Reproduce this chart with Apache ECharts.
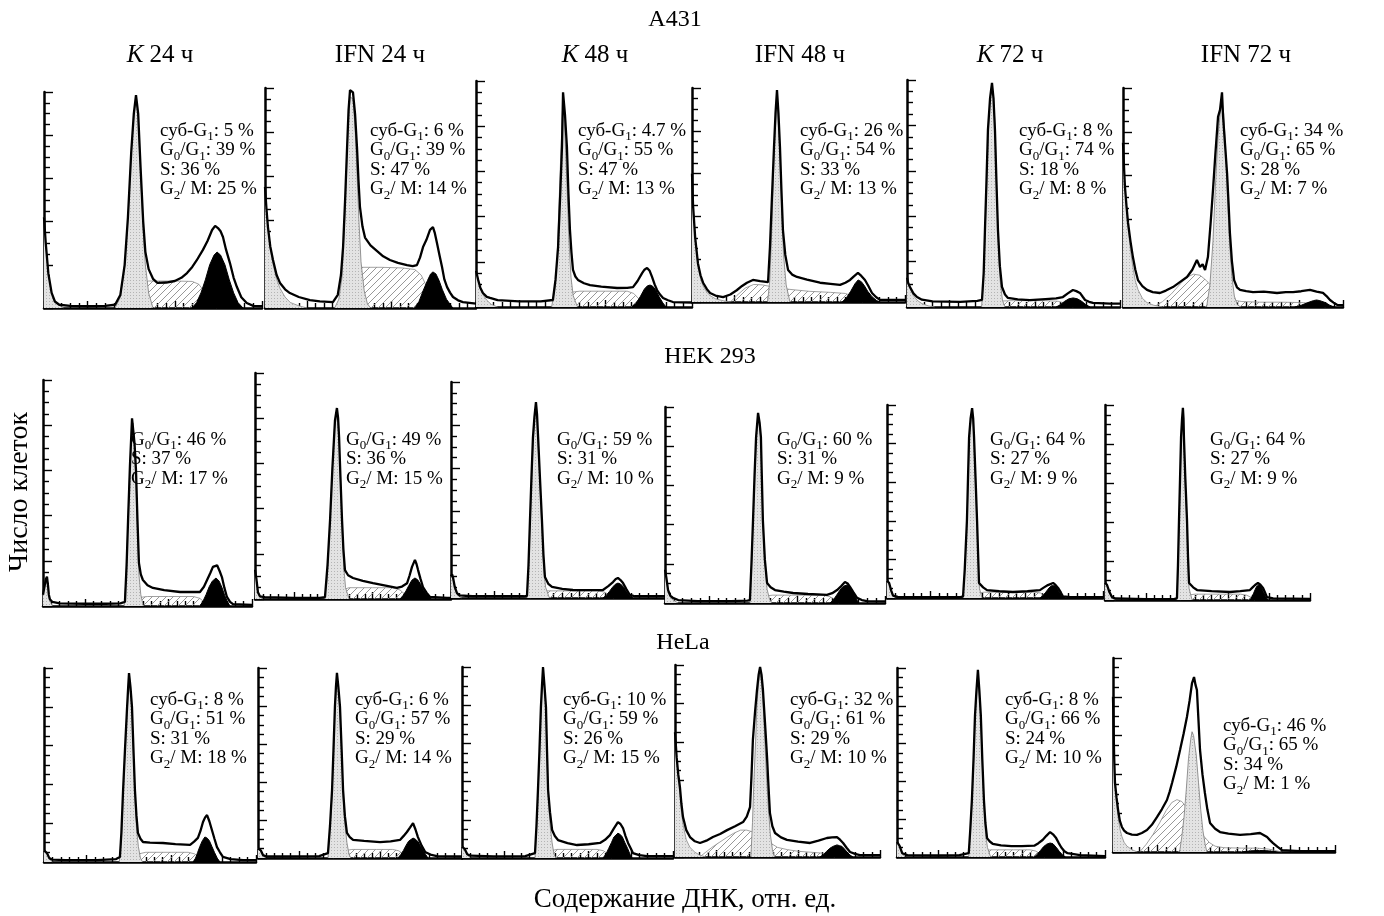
<!DOCTYPE html>
<html>
<head>
<meta charset="utf-8">
<title>Клеточный цикл: A431, HEK 293, HeLa</title>
<script src="https://cdn.jsdelivr.net/npm/echarts@6/dist/echarts.min.js"></script>
<style>
  html, body { margin: 0; padding: 0; background: #fff; }
  #chart { width: 1384px; height: 916px; }
</style>
</head>
<body>
<div id="chart"></div>
<script>
// подписи колонок и строк
const colTitles = ['{i|K} 24 ч', 'IFN 24 ч', '{i|K} 48 ч', 'IFN 48 ч', '{i|K} 72 ч', 'IFN 72 ч']
const rowTitles = ['A431', 'HEK 293', 'HeLa']

// доли фаз, %
const a431SubG1 = [5, 6, 4.7, 26, 8, 34]
const a431G0G1 = [39, 39, 55, 54, 74, 65]
const a431S = [36, 47, 47, 33, 18, 28]
const a431G2M = [25, 14, 13, 13, 8, 7]
const hekG0G1 = [46, 49, 59, 60, 64, 64]
const hekS = [37, 36, 31, 31, 27, 27]
const hekG2M = [17, 15, 10, 9, 9, 9]
const helaSubG1 = [8, 6, 10, 32, 8, 46]
const helaG0G1 = [51, 57, 59, 61, 66, 65]
const helaS = [31, 29, 26, 29, 24, 34]
const helaG2M = [18, 14, 15, 10, 10, 1]

// гистограммы: [канал, число клеток в % от максимума шкалы]
// A431 K 24
const a431K24Env = [[0,42],[0.8,30],[2,16],[3.5,7],[5,3],[7,1.5],[12,1],[20,0.8],[28,1],[32.6,1.5],[35,6],[37,20],[38.5,42],[40,72],[41.2,90],[42.2,98.6],[43.2,90],[44.3,65],[45.5,40],[46.5,26],[48,18],[50,13.5],[52,11.6],[56,11.8],[60,12.5],[63,14],[65.6,16.2],[68,19],[70,22],[72.9,26.9],[75,31],[77.1,36.1],[78.5,38],[79.8,37],[81,35.5],[82.1,32.9],[83.5,27],[85.3,20.8],[87,14],[88.5,9.7],[90.5,5],[93,2.3],[96,1],[100,0.8]]
const a431K24Sub = [[0,42],[0.8,30],[2,16],[3.5,7],[5,3],[7,1.2],[9,0]]
const a431K24S = [[38,0],[42,6],[45,11],[48,12.5],[60,12.5],[68,12.3],[71,11],[74,7],[77,2],[79,0]]
const a431K24G1 = [[32.6,0],[35,5],[37,19],[38.5,41],[40,71],[41.2,89],[42.2,97],[43.2,88],[44.3,62],[45.5,36],[46.5,20],[48,7],[50,0]]
const a431K24G2 = [[67.9,0],[70,2.5],[72,7],[74,13],[76,20],[78,24.5],[79.4,25.9],[81,24.5],[83,20],[85,13],[87,7],[89,2.5],[91.3,0]]
// A431 IFN 24
const a431Ifn24Env = [[0,55],[0.7,45],[1.4,36.8],[2.5,28],[3.8,21.8],[5.5,15],[7.1,11.4],[9.5,8.5],[11.8,6.8],[16,5],[21.3,3.6],[26,3],[32.2,2.7],[34.5,6],[36,15],[37,27.7],[38,50],[38.9,73],[39.6,90],[40.3,99],[41.7,98],[42.7,88],[43.6,73],[44.3,58],[45,46],[46.2,37],[47.4,32],[50,28.5],[53,26],[56,23.5],[59.2,21.8],[63,20.5],[67.3,19.5],[70,19],[72,19.5],[73.5,23],[74.9,27.7],[76.5,31],[78.2,35.5],[79.6,36.8],[80.5,34],[81.5,29.5],[82.7,24],[83.9,18.6],[85,13],[86.3,9.5],[87.7,7],[89.1,5],[91.5,3.5],[93.8,2.7],[100,2]]
const a431Ifn24Sub = [[0,55],[0.7,45],[1.4,36],[2.5,27],[3.8,20],[5.5,13],[7.1,9],[9.5,5],[12,2.5],[16,1],[20,0]]
const a431Ifn24S = [[36,0],[39,5],[42,12],[46,18.5],[55,18.5],[65,18.2],[71,17.5],[74,15],[76,11],[78,5],[80,0]]
const a431Ifn24G1 = [[33,0],[35,4],[36.5,14],[38,45],[39.2,78],[40.3,96],[41.7,95],[42.7,82],[43.6,62],[44.5,40],[45.5,21],[47,8],[48.5,2],[50,0]]
const a431Ifn24G2 = [[71,0],[73,3],[75,8],[77,12.5],[78.5,15.5],[79.6,16.4],[81,15.5],[82.5,12.5],[84,8.5],[86,4],[89,0]]
// A431 K 48
const a431K48Env = [[0,16],[1,12],[2,8.5],[3.2,6.2],[5,4.5],[6.5,4],[10,3],[20,2.5],[30,2.5],[35.6,3.1],[36.8,12],[38,26.5],[39,50],[39.8,70.8],[40.3,95],[41.2,85],[42.1,70.8],[42.8,50],[43.5,34],[44.2,24],[44.9,16.4],[46,13.5],[47.2,12],[50,10.5],[52.8,9.7],[58,9],[65.3,8.4],[70,8.5],[72.7,8.8],[74.8,11.5],[76.9,15],[78,16.5],[79.2,17.3],[80.4,16],[81.5,13.3],[82.7,10],[83.8,7.5],[85.2,5.5],[86.6,4],[88.9,3],[91.2,2.2],[100,2]]
const a431K48Sub = [[0,16],[1,12],[2,8],[3.2,5.5],[5,3],[7,1.2],[10,0]]
const a431K48S = [[38,0],[41,4],[44,6.5],[48,7],[60,7],[70,7],[73,6],[75.5,3.5],[78,0]]
const a431K48G1 = [[35,0],[36.5,8],[37.5,20],[38.3,42],[39.2,66],[40.3,93],[41.3,74],[42.2,52],[43,30],[44,13],[45,5],[47,0]]
const a431K48G2 = [[72,0],[74,1.5],[76,4.5],[78,8],[79.4,9.4],[80.6,9.7],[81.8,9.2],[83.2,7.5],[84.8,4.5],[86.5,1.8],[88,0]]
// A431 IFN 48
const a431Ifn48Env = [[0,60],[0.5,45],[1.5,30],[2.8,18],[4,12.5],[5.2,9],[7,6],[8.5,4.2],[11,3],[14.6,2.3],[18,3.5],[21,5.5],[23.5,7.5],[25.8,9],[28.6,10.3],[32,9.8],[35.7,9.3],[36.6,25.7],[37.5,48],[38.5,72.4],[39.2,88],[39.9,99],[40.6,88],[41.3,72.4],[42,52],[42.7,33.6],[43.8,22],[45.1,15],[47,12.8],[49.3,11.7],[54,10.5],[60.1,9],[65,8.5],[69.5,8],[72,9],[74.2,10.3],[76,12],[77.9,13.6],[79.5,12.2],[81.2,10.3],[82.8,7.5],[84.5,4.2],[86.5,2.2],[88.3,1],[97.7,1],[100,1]]
const a431Ifn48Sub = [[0,60],[0.5,45],[1.5,30],[2.8,17],[4,11],[5.2,7.5],[7,4.5],[8.5,3],[11,1.5],[14.6,0.6],[18,0]]
const a431Ifn48S = [[18,0],[21,3],[25,6.5],[29,8.2],[33,8],[38,7],[45,6],[55,5],[65,4.5],[72,4],[76,2.5],[80,0]]
const a431Ifn48G1 = [[35.5,0],[36.5,10],[37.5,35],[38.5,68],[39.9,97],[41.3,68],[42.2,42],[43,22],[44.2,8],[46,0]]
const a431Ifn48G2 = [[70.5,0],[72.5,2],[74.5,5],[76.5,8.5],[78,10.3],[79.5,9.5],[81,7.5],[82.5,5],[84.5,2.5],[86.5,0.8],[88,0]]
// A431 K 72
const a431K72Env = [[0,13],[0.6,10.5],[1.4,8.8],[3,6],[4.7,4.4],[7,3.2],[12,2.5],[25,2.3],[33,2.7],[35.2,3.1],[36,15],[36.6,34],[37.3,55],[38,78],[39,92],[39.9,98.7],[40.6,92],[41.3,78],[42,55],[42.7,34],[43.6,18],[44.6,8.8],[46,5.5],[47.4,4],[52,3.4],[57.7,3],[65,3.5],[70,3.8],[73.2,4.4],[75.5,6],[77.9,7.5],[79.5,7],[81.2,6.2],[82.5,4.5],[83.6,3.1],[85.5,2.3],[87.3,1.8],[95.3,1.5],[100,1.5]]
const a431K72Sub = [[0,13],[0.6,10],[1.4,8],[3,5],[4.7,3],[7,1.5],[10,0.5],[13,0]]
const a431K72S = [[37,0],[40,1.8],[43,2.6],[50,2.8],[65,2.8],[71,2.5],[75,1.5],[78,0]]
const a431K72G1 = [[35,0],[35.8,10],[36.6,30],[37.4,55],[38.3,80],[39.1,92],[39.9,97],[40.7,92],[41.3,80],[42,55],[42.8,30],[43.7,12],[44.8,3],[46,0]]
const a431K72G2 = [[70,0],[72,1],[74,2.5],[76,3.6],[78,4],[80,3.6],[82,2.5],[84,1],[86,0]]
// A431 IFN 72
const a431Ifn72Env = [[0,75],[0.5,63],[0.9,54.8],[1.6,46],[2.3,38.4],[3.4,30],[4.5,22.8],[5.6,17],[6.8,12.3],[8.8,9.5],[10.9,7.8],[13.5,6.8],[16.8,6.4],[19.5,7.5],[22.7,9.1],[26,11.5],[29.1,13.7],[31.5,17],[33.6,21.5],[35,18.3],[36.2,19.5],[37.3,16.9],[38.6,22.8],[39.8,38],[40.9,53.4],[42,70],[43.2,86.8],[44.1,90],[45,98],[45.5,86.8],[46.4,74],[47.3,61.2],[48,47],[48.6,33.8],[49.5,21],[50.5,12.3],[51.8,9],[53.2,7.8],[56,7.2],[59.1,6.8],[64,7],[70,6.4],[74,6.8],[77.3,6.8],[81,7.2],[85,7.8],[88,7],[90.9,6.4],[92.5,5],[94.1,3.2],[95.7,2],[97.3,1],[100,0.8]]
const a431Ifn72Sub = [[0,75],[0.5,62],[0.9,54],[1.6,44],[2.3,36],[3.4,26],[4.5,18],[5.6,12],[6.8,8],[8.8,4],[10.9,2],[14,0.8],[18,0]]
const a431Ifn72S = [[14,0],[18,2.5],[22,6],[26,10.5],[29,13.5],[32,15],[35,14.5],[38,12],[41,8.5],[44,5.5],[48,3.5],[54,2.5],[62,2.2],[72,2.2],[82,2],[88,1.5],[92,0]]
const a431Ifn72G1 = [[38,0],[39.5,10],[40.9,30],[42,55],[43.2,78],[44.3,90],[45,94],[45.8,88],[46.6,72],[47.5,50],[48.4,30],[49.5,14],[50.6,5],[52,1],[53.5,0]]
const a431Ifn72G2 = [[78,0],[81,0.8],[84,2],[86.5,2.9],[88,3.2],[89.5,2.9],[92,2],[94,0.8],[96,0]]

// HEK 293 K 24
const hekK24Env = [[0,5],[0.8,9],[1.4,12],[1.9,13],[2.4,9],[2.8,5],[3.3,3],[4.5,1.8],[8,1.2],[20,1],[30,1],[37,1.2],[39.2,1.8],[40,18],[40.7,38],[41.6,62],[42.6,83],[43.1,83.6],[43.8,72],[44.5,60],[45.2,38],[45.9,19],[46.8,14],[47.8,11.5],[50,9.2],[52.6,8],[58,7],[65.6,6.2],[70,6.2],[75.1,6.2],[77,8.5],[78.5,11.5],[80,14.5],[81.3,17.3],[83.3,18],[84.5,15.5],[85.6,12.8],[86.8,8],[88,4],[89.5,1.8],[90.9,0.8],[100,0.5]]
const hekK24Sub = [[0,5],[0.8,8.5],[1.4,11],[1.9,12],[2.4,8],[2.8,4],[3.3,2],[4.5,0]]
const hekK24S = [[42,0],[44,2],[46.5,3.8],[50,4.2],[60,4.2],[72,4.2],[75,3.4],[77.5,1.5],[79,0]]
const hekK24G1 = [[38.8,0],[39.6,10],[40.5,33],[41.5,60],[42.6,80],[43.1,81],[43.8,70],[44.5,55],[45.2,33],[45.9,14],[46.8,5],[48,0]]
const hekK24G2 = [[75,0],[76.5,2],[78,5],[79.5,8.5],[81,11],[82.8,12.4],[84.3,11],[85.7,8],[87,4.5],[88.3,1.8],[89.5,0]]
// HEK 293 IFN 24
const hekIfn24Env = [[0,13],[0.7,9],[1.5,3],[2.5,1.2],[5,0.8],[20,0.5],[33,0.5],[35.7,0.8],[37,15],[38.3,35],[39.5,58],[40.8,79],[41.8,84.5],[42.4,80],[42.9,71.7],[43.6,54],[44.4,35],[45.1,22],[45.9,12.8],[47.5,10.5],[50,9.3],[55,8],[60.2,7],[66,6],[72.4,4.9],[75,5.5],[77.6,7],[78.9,10.5],[80.1,14.2],[81.6,17.3],[82.4,15.5],[83.2,12.8],[84.4,9],[85.7,5.3],[87.5,2.8],[89.3,0.9],[98,0.5],[100,0.5]]
const hekIfn24Sub = [[0,13],[0.7,8],[1.5,2.5],[2.5,0.8],[4,0]]
const hekIfn24S = [[40,0],[42,2],[44.5,4],[48,5],[60,5],[70,5],[74,4],[76.5,2],[78,0]]
const hekIfn24G1 = [[35.5,0],[36.7,8],[38,28],[39.3,55],[40.5,75],[41.8,82],[42.9,70],[43.7,50],[44.5,30],[45.3,14],[46.2,5],[48,0]]
const hekIfn24G2 = [[74,0],[75.5,1.5],[77,3.5],[78.5,6],[80,8.3],[81.6,9.3],[83,8.5],[84.5,6.5],[86,4],[88,1.5],[90,0]]
// HEK 293 K 48
const hekK48Env = [[0,10],[0.5,11],[0.9,9.7],[1.8,5],[2.8,2.3],[4,1.2],[10,0.8],[25,0.8],[34,0.8],[35.5,1],[36.2,15],[36.9,36],[37.6,56],[38.3,74.5],[39,84],[39.7,90.7],[40.2,85],[40.7,74.5],[41.6,55],[42.5,36],[43.2,20],[43.9,9.7],[45.5,6.5],[47.2,5.1],[52,4.2],[57,3.7],[64,3.6],[71,3.7],[73.5,5.5],[75.7,7.4],[77,8.8],[78,9.3],[79.2,8.3],[80.4,6.9],[82,4],[83.6,1.4],[86,0.8],[97.7,0.8],[100,0.8]]
const hekK48Sub = [[0,10],[0.5,10.5],[0.9,9],[1.8,4.5],[2.8,1.8],[4,0.5],[5,0]]
const hekK48S = [[37,0],[39,1.5],[41,2.8],[45,3.3],[58,3.3],[68,3.3],[71.5,2.8],[74,1.5],[76,0]]
const hekK48G1 = [[35.5,0],[36.2,12],[36.9,33],[37.6,52],[38.3,71],[39,82],[39.7,89],[40.2,83],[40.7,71],[41.6,52],[42.5,32],[43.3,14],[44.2,5],[46,0]]
const hekK48G2 = [[71,0],[72.5,1.2],[74,3],[75.5,5],[76.7,6.3],[78,6.9],[79.2,6.5],[80.5,5.2],[82,3],[83.5,1.2],[85,0]]
// HEK 293 IFN 48
const hekIfn48Env = [[0,17],[0.6,13],[1.4,6.6],[2.4,3.8],[3.6,2.6],[6,1.5],[15,1],[30,1],[37.5,1.2],[38.6,1.5],[39.3,20],[40,42],[40.7,65],[41.4,84.7],[42.3,97],[43,92],[43.6,84.7],[44,65],[44.5,42],[45.4,22],[46.4,10.2],[48,8],[50,6.6],[54,5.8],[58.2,5.1],[65,4.6],[73.6,4.1],[76,5],[78.2,6.6],[80,8.5],[81.8,10.7],[83,10],[84.1,8.2],[85.6,5.5],[87.3,2.6],[89.5,1.5],[91.8,1],[100,0.8]]
const hekIfn48Sub = [[0,17],[0.6,12],[1.4,6],[2.4,3],[3.6,1.5],[6,0]]
const hekIfn48S = [[41,0],[43,2],[45,3.5],[49,4],[60,4],[72,4],[75,3.2],[77,2],[79,0]]
const hekIfn48G1 = [[38.6,0],[39.3,18],[40,40],[40.7,62],[41.4,82],[42.3,95],[43,90],[43.6,82],[44,62],[44.5,40],[45.4,20],[46.4,7],[47.5,2],[48.5,0]]
const hekIfn48G2 = [[75,0],[76.5,1.5],[78,4],[79.5,6.5],[81,8.5],[82.7,9.2],[83.8,8.5],[84.8,7],[86,4.5],[87,2],[88,0]]
// HEK 293 K 72
const hekK72Env = [[0,9],[0.5,9.5],[1,7.8],[1.9,4],[2.8,1.2],[5,0.6],[20,0.5],[34,0.5],[35.2,0.8],[36,15],[37,40],[37.5,62],[38,83.4],[38.7,93],[39.4,98.4],[39.9,93],[40.3,83.4],[41,62],[41.7,40],[42.2,22],[42.6,7.8],[44.5,5.5],[46.3,4.1],[52,3.5],[58.3,3.1],[65,3.5],[70.8,4.1],[72.7,5.5],[74.5,6.7],[76.9,7.8],[78,6.8],[79.2,5.2],[80.4,3],[81.5,0.8],[85,0.5],[100,0.5]]
const hekK72Sub = [[0,9],[0.5,9],[1,7.2],[1.9,3.5],[2.8,1],[4,0]]
const hekK72S = [[38,0],[40,1.5],[42,2.6],[45,3],[60,3],[68,3],[71,2.6],[73,1.5],[75,0]]
const hekK72G1 = [[35.2,0],[36,13],[37,37],[37.5,58],[38,80],[38.7,90],[39.4,96],[39.9,90],[40.3,80],[41,58],[41.7,36],[42.2,18],[42.8,5],[44,0]]
const hekK72G2 = [[70.8,0],[72,1],[73.5,3],[75,5.2],[76.2,6.4],[76.9,6.7],[77.8,6.3],[78.8,5],[79.8,3],[81,1.2],[82.4,0]]
// HEK 293 IFN 72
const hekIfn72Env = [[0,9],[0.5,9.5],[1,7.7],[2,4.5],[3.4,1.5],[5,0.8],[20,0.5],[34,0.6],[35.1,1],[35.6,18],[36.1,41],[36.6,62],[37.1,83.6],[37.6,93],[38,98.5],[38.3,93],[38.5,83.6],[39.2,62],[40,41],[40.5,22],[41,8.7],[43,6.5],[44.9,5.1],[52,4.5],[61,4.1],[66,4.5],[70.7,5.1],[72,6.5],[73.2,7.7],[74.6,8.7],[75.8,7.8],[77.1,6.2],[78,4],[79,1.5],[82,0.8],[100,0.6]]
const hekIfn72Sub = [[0,9],[0.5,9],[1,7],[2,4],[3.4,1],[5,0]]
const hekIfn72S = [[37,0],[38.5,1.5],[40,2.5],[44,3],[58,3],[66,3],[69,2.5],[71,1.5],[73,0]]
const hekIfn72G1 = [[35,0],[35.6,16],[36.1,38],[36.6,58],[37.1,80],[37.6,90],[38,96],[38.3,90],[38.5,80],[39.2,58],[40,38],[40.5,18],[41,6],[42.5,0]]
const hekIfn72G2 = [[70.7,0],[71.6,1.5],[72.5,3.5],[73.3,5.5],[74,7],[75.1,7.7],[75.8,7.2],[76.5,6.2],[77.3,4],[78.3,1.8],[79.5,0]]

// HeLa K 24
const helaK24Env = [[0,6],[0.7,6.5],[1.4,4.6],[2.5,2],[4,1.2],[10,1],[25,1],[34,1.5],[35.8,2.6],[36.5,15],[37.3,37],[38.2,58],[39.2,80],[39.7,90],[40.1,97.4],[40.8,90],[41.5,80],[42.2,58],[42.9,37],[43.6,24],[44.3,15],[45.5,12],[46.7,10.3],[50,10],[56.1,9.8],[62,9.2],[68.9,8.8],[70.8,10.5],[72.6,12.4],[73.8,16],[75,20.6],[76,23],[76.9,24.2],[78,21],[79.2,16.5],[80.4,12],[81.6,7.7],[83,5],[84.4,2.6],[88,1.5],[93.9,1],[100,1]]
const helaK24Sub = [[0,6],[0.7,6.2],[1.4,4.2],[2.5,1.5],[4,0]]
const helaK24S = [[40,0],[42,2],[44,4],[48,5],[60,5],[68,5],[71,4.2],[73,2.5],[75,0]]
const helaK24G1 = [[35.5,0],[36.5,12],[37.3,34],[38.2,55],[39.2,77],[39.7,86],[40.1,94],[40.8,87],[41.5,77],[42.2,55],[42.9,34],[43.6,18],[44.5,8],[45.5,2],[46.5,0]]
const helaK24G2 = [[70.3,0],[71.5,2],[72.5,5],[73.5,8],[74.7,11],[75.9,12.9],[77,12.3],[78,11],[79.2,8],[80.4,5],[81.7,2],[83,0]]
// HeLa IFN 24
const helaIfn24Env = [[0,5],[0.7,5.5],[1.4,4],[2.5,1.5],[4,0.8],[15,0.8],[30,1],[34.3,2.6],[35.3,17],[36.3,35.8],[37,57],[37.7,79.5],[38.2,90],[38.7,97.4],[39.4,90],[40.2,79.5],[41,57],[41.7,35.8],[42.6,22],[43.6,13.2],[45,11],[46.6,9.5],[52,9],[59.8,8.4],[65,8.8],[69.6,9.5],[71.3,11.5],[73,13.7],[74.5,16],[76,18.4],[77.2,15],[78.4,11],[80.2,6.5],[81.9,3.2],[84.5,1.8],[87.7,1],[100,0.8]]
const helaIfn24Sub = [[0,5],[0.7,5.2],[1.4,3.5],[2.5,1],[4,0]]
const helaIfn24S = [[37,0],[39,2],[41,3.5],[46,4.5],[58,4.5],[66,4.5],[69,3.8],[71,2.2],[73,0]]
const helaIfn24G1 = [[34.3,0],[35.3,15],[36.3,33],[37,55],[37.7,77],[38.2,87],[38.7,95],[39.4,88],[40.2,77],[41,55],[41.7,33],[42.6,18],[43.6,8],[44.6,2],[45.5,0]]
const helaIfn24G2 = [[68.6,0],[70,1.8],[71.3,4],[72.5,6.5],[73.8,8.8],[76,10.5],[77.3,9.8],[78.5,8.5],[79.8,6],[81,4],[82.2,1.8],[83.3,0]]
// HeLa K 48
const helaK48Env = [[0,6],[0.7,6.5],[1.4,4.5],[2.5,2],[4,1.2],[15,0.8],[30,1],[34.6,2.6],[35.3,17],[36,35.6],[36.7,56],[37.4,79],[37.9,90],[38.4,100],[39.1,90],[39.8,79],[40.3,56],[40.8,35.6],[41.7,24],[42.7,14.7],[44,11.5],[45.5,9.4],[50,7.8],[54.5,6.8],[60,7.2],[65.4,7.9],[67.8,9.5],[70.1,12],[72,15.5],[73.9,18.8],[75.1,17.8],[76.3,15.7],[77.5,11.5],[78.7,7.9],[80,5],[81,2.6],[84,1.5],[87.7,1],[100,1]]
const helaK48Sub = [[0,6],[0.7,6.2],[1.4,4],[2.5,1.5],[4,0]]
const helaK48S = [[37,0],[39,2],[41,3.5],[45,4.5],[56,4.5],[64,4.5],[67,3.8],[69,2.2],[71,0]]
const helaK48G1 = [[34.6,0],[35.3,15],[36,33],[36.7,53],[37.4,77],[37.9,88],[38.4,98],[39.1,88],[39.8,77],[40.3,53],[40.8,33],[41.7,18],[42.7,8],[43.6,2],[44.5,0]]
const helaK48G2 = [[66.8,0],[68.2,2],[69.5,5],[70.8,8],[72,11],[73.9,13],[75,12.3],[76,11],[77.2,8],[78.5,5],[79.6,2],[80.6,0]]
// HeLa IFN 48
const helaIfn48Env = [[0,65],[0.8,52],[1.6,43],[2.4,36.5],[3.1,28],[3.9,20.8],[5.5,14],[7.3,10.4],[9.7,8.2],[12.2,7.3],[15.3,8.5],[18.5,10.4],[22,12],[25.4,14],[29.3,16],[33.2,18.2],[35,21],[36.6,26],[37.3,42],[38,61],[39,75],[40,87],[40.8,95],[41.5,99],[42.2,95],[42.9,87],[43.9,70],[44.9,52],[45.6,37],[46.3,23],[47.5,16],[48.8,12.5],[51.7,10.2],[54.6,8.9],[60,8],[65.9,7.3],[70,8.5],[74.1,9.9],[76.6,10.2],[79,10.4],[80.5,9],[82,7.3],[83.7,4.8],[85.4,2.6],[87.8,1.6],[90.2,1],[99,1],[100,1]]
const helaIfn48Sub = [[0,65],[0.8,50],[1.6,40],[2.4,33],[3.1,24],[3.9,17],[5.5,9],[7.3,5],[9.7,2.5],[12,1],[15,0]]
const helaIfn48S = [[12,0],[15,2.5],[18,5],[21.5,7.5],[25,10],[28.5,12.3],[32,14],[35,14],[38,13],[41,11],[44,9],[47,7],[50,5],[55,3.8],[60,3],[66,2.5],[72,2],[75,1],[78,0]]
const helaIfn48G1 = [[37,0],[37.8,18],[38.5,40],[39.3,60],[40,80],[40.8,91],[41.5,97],[42.2,91],[42.9,82],[43.7,64],[44.5,45],[45.4,28],[46.5,12],[47.5,4],[48.5,0]]
const helaIfn48G2 = [[70.7,0],[72.3,1.2],[74,3],[75.5,4.5],[77,5.5],[79,6.3],[80.3,5.9],[81.5,5.5],[82.8,4],[84,2.5],[85.4,1],[86.8,0]]
// HeLa K 72
const helaK72Env = [[0,8],[0.6,8.5],[1.2,6],[2.5,2],[5,1],[20,0.8],[30,1],[34.5,2],[35.2,14],[36,30],[36.8,52],[37.5,75],[38.2,88],[38.9,99],[39.6,88],[40.3,75],[41,52],[41.8,30],[42.5,18],[43.3,10],[44.6,8.2],[46,7],[50,6.2],[55,5.8],[60,5.8],[66,6],[68,7.3],[70,9],[71.8,11.2],[73.6,13.2],[75,12],[76.5,10],[77.7,7.5],[79,5],[80.5,3],[82,2],[88,1],[100,0.5]]
const helaK72Sub = [[0,8],[0.6,8],[1.2,5.5],[2.5,1.5],[4,0]]
const helaK72S = [[37,0],[39,1.8],[41,3],[45,3.8],[56,3.8],[64,3.8],[66.5,3.2],[68.8,1.8],[71,0]]
const helaK72G1 = [[34.5,0],[35.2,12],[36,28],[36.8,50],[37.5,72],[38.2,85],[38.9,97],[39.6,85],[40.3,72],[41,50],[41.8,28],[42.6,12],[43.5,5],[45,0]]
const helaK72G2 = [[66,0],[67.5,1.5],[69,3.5],[70.5,5.5],[72,6.8],[73.6,7.4],[75,7],[75.5,6.5],[76.8,4.8],[78,3],[79.5,1.2],[81,0]]
// HeLa IFN 72
const helaIfn72Env = [[0,80],[0.5,50],[0.9,35.6],[1.6,28],[2.3,21.6],[3.1,16],[4,12.9],[5,11],[6.3,9.8],[8.5,9],[10.8,8.8],[13,9.8],[15.3,11.3],[17.5,14],[19.8,18],[22,22],[24.3,26.8],[25.5,31],[26.6,35.6],[28.5,44],[30.2,52.6],[31.8,61],[33.3,69.6],[34.5,78],[35.6,87.1],[36.5,90.2],[37.2,86],[37.8,83.5],[38.5,68],[39.2,52.6],[40.3,40],[41.4,30.4],[42.5,22],[43.7,15],[46,12],[48.2,10.3],[52,9.5],[57.2,8.8],[62,9.2],[66.2,9.8],[67.8,8.8],[69.4,7.7],[70.8,6],[72.1,4.6],[74,2.8],[76.1,1],[84.2,0.5],[100,0.5]]
const helaIfn72Sub = [[0,80],[0.5,48],[0.9,34],[1.6,25],[2.3,18],[3.1,12],[4,8],[5,5],[6.3,3],[8.5,1.2],[11,0]]
const helaIfn72S = [[12,0],[15,4],[18,9],[21,15],[24,21.5],[26.5,25.5],[28.8,27],[31,26],[33.5,22.5],[36,17.5],[38.5,12.5],[41,8],[43.5,4.8],[46,3],[50,2.2],[58,2],[65,2],[70,1.5],[73,0.8],[76,0]]
const helaIfn72G1 = [[30,0],[31,8],[32,18],[33,32],[34,48],[35,58],[35.6,62],[36.3,60],[37.5,50],[38.5,36],[39.5,22],[40.5,11],[41.5,4],[42.3,0]]
const helaIfn72G2 = [[58,0],[62,0.6],[66,0.8],[70,0.6],[74,0]]

// порядок: огибающая, суб-G1, S, G0/G1, G2/M
const panels = [
  [a431K24Env, a431K24Sub, a431K24S, a431K24G1, a431K24G2],
  [a431Ifn24Env, a431Ifn24Sub, a431Ifn24S, a431Ifn24G1, a431Ifn24G2],
  [a431K48Env, a431K48Sub, a431K48S, a431K48G1, a431K48G2],
  [a431Ifn48Env, a431Ifn48Sub, a431Ifn48S, a431Ifn48G1, a431Ifn48G2],
  [a431K72Env, a431K72Sub, a431K72S, a431K72G1, a431K72G2],
  [a431Ifn72Env, a431Ifn72Sub, a431Ifn72S, a431Ifn72G1, a431Ifn72G2],
  [hekK24Env, hekK24Sub, hekK24S, hekK24G1, hekK24G2],
  [hekIfn24Env, hekIfn24Sub, hekIfn24S, hekIfn24G1, hekIfn24G2],
  [hekK48Env, hekK48Sub, hekK48S, hekK48G1, hekK48G2],
  [hekIfn48Env, hekIfn48Sub, hekIfn48S, hekIfn48G1, hekIfn48G2],
  [hekK72Env, hekK72Sub, hekK72S, hekK72G1, hekK72G2],
  [hekIfn72Env, hekIfn72Sub, hekIfn72S, hekIfn72G1, hekIfn72G2],
  [helaK24Env, helaK24Sub, helaK24S, helaK24G1, helaK24G2],
  [helaIfn24Env, helaIfn24Sub, helaIfn24S, helaIfn24G1, helaIfn24G2],
  [helaK48Env, helaK48Sub, helaK48S, helaK48G1, helaK48G2],
  [helaIfn48Env, helaIfn48Sub, helaIfn48S, helaIfn48G1, helaIfn48G2],
  [helaK72Env, helaK72Sub, helaK72S, helaK72G1, helaK72G2],
  [helaIfn72Env, helaIfn72Sub, helaIfn72S, helaIfn72G1, helaIfn72G2]
]

// расположение панелей: left, top, width, height (px)
const boxes = [
  [44, 92, 218, 216], [265, 88, 211, 220], [476, 81, 216, 226], [692, 88, 213, 214], [907, 80, 213, 227], [1123, 88, 220, 219],
  [43, 380, 209, 226], [255, 373, 196, 226], [451, 382, 214, 216], [665, 407, 220, 196], [887, 405, 216, 193], [1105, 405, 205, 195],
  [44, 668, 212, 194], [258, 668, 204, 190], [462, 667, 211, 191], [675, 665, 205, 192], [897, 668, 208, 189], [1113, 658, 222, 194]
]
// положение подписей с долями фаз (левый край, центр первой строки)
const noteX = [160, 370, 578, 800, 1019, 1240, 131, 346, 557, 777, 990, 1210, 150, 355, 563, 790, 1005, 1223]
const noteY = [131, 131, 131, 131, 131, 131, 440, 440, 440, 440, 440, 440, 700, 700, 700, 700, 700, 726]
const colTitleX = [160, 380, 595, 800, 1010, 1246]

const FONT = 'Liberation Serif, Times New Roman, serif'

// штриховка для S-фазы
function makeHatch () {
  const c = document.createElement('canvas')
  c.width = 7
  c.height = 7
  const ctx = c.getContext('2d')
  ctx.strokeStyle = '#8c8c8c'
  ctx.lineWidth = 0.9
  ctx.beginPath()
  ctx.moveTo(0, 7); ctx.lineTo(7, 0)
  ctx.moveTo(-1, 1); ctx.lineTo(1, -1)
  ctx.moveTo(6, 8); ctx.lineTo(8, 6)
  ctx.stroke()
  return c
}
// точечная заливка для пиков G0/G1 и суб-G1
function makeDots () {
  const c = document.createElement('canvas')
  c.width = 3
  c.height = 3
  const ctx = c.getContext('2d')
  ctx.fillStyle = '#e3e3e3'
  ctx.fillRect(0, 0, 3, 3)
  ctx.fillStyle = '#b4b4b4'
  ctx.fillRect(1, 1, 1, 1)
  return c
}
const hatch = { image: makeHatch(), repeat: 'repeat' }
const dots = { image: makeDots(), repeat: 'repeat' }

function curve (idx, data, lineColor, lineWidth, fill, z) {
  let s = {
    type: 'line',
    xAxisIndex: idx,
    yAxisIndex: idx,
    data: data,
    symbol: 'none',
    showSymbol: false,
    silent: true,
    lineStyle: { color: lineColor, width: lineWidth },
    z: z
  }
  if (fill) s.areaStyle = { color: fill, opacity: 1 }
  return s
}

function noteLines (i) {
  const c = i % 6
  const sub = v => 'суб-G{s|1}: ' + v + ' %'
  const g1 = v => 'G{s|0}/G{s|1}: ' + v + ' %'
  const s = v => 'S: ' + v + ' %'
  const g2 = v => 'G{s|2}/ M: ' + v + ' %'
  if (i < 6) return [sub(a431SubG1[c]), g1(a431G0G1[c]), s(a431S[c]), g2(a431G2M[c])]
  if (i < 12) return [g1(hekG0G1[c]), s(hekS[c]), g2(hekG2M[c])]
  return [sub(helaSubG1[c]), g1(helaG0G1[c]), s(helaS[c]), g2(helaG2M[c])]
}

let grids = []
let xAxes = []
let yAxes = []
let series = []
let graphics = []

const tickStyle = { color: '#000', width: 1.4 }
panels.forEach((p, i) => {
  const b = boxes[i]
  grids.push({ left: b[0], top: b[1], width: b[2], height: b[3], containLabel: false })
  xAxes.push({
    gridIndex: i, type: 'value', min: 0, max: 100, interval: 20,
    axisLine: { show: true, onZero: false, lineStyle: { color: '#000', width: 2.5 } },
    axisTick: { show: true, inside: true, length: 7, lineStyle: tickStyle },
    minorTick: { show: true, splitNumber: 5, length: 5, lineStyle: tickStyle },
    axisLabel: { show: false },
    splitLine: { show: false }
  })
  yAxes.push({
    gridIndex: i, type: 'value', min: 0, max: 100, interval: 20,
    axisLine: { show: true, lineStyle: { color: '#000', width: 2.5 } },
    axisTick: { show: true, inside: true, length: 9, lineStyle: tickStyle },
    minorTick: { show: true, splitNumber: 4, length: 6, lineStyle: tickStyle },
    axisLabel: { show: false },
    splitLine: { show: false }
  })
  series.push(curve(i, p[2], '#8a8a8a', 0.8, hatch, 2))
  series.push(curve(i, p[1], '#8a8a8a', 0.8, dots, 3))
  series.push(curve(i, p[3], '#7a7a7a', 0.8, dots, 4))
  series.push(curve(i, p[4], '#000', 1, '#000', 5))
  series.push(curve(i, p[0], '#000', 2.3, null, 6))

  graphics.push({
    type: 'text', x: noteX[i], y: noteY[i] - 10, z: 10,
    style: {
      text: noteLines(i).join('\n'),
      fontFamily: FONT, fontSize: 19, lineHeight: 19.5, fill: '#000',
      // нижний индекс: сдвигаем вниз за счёт отступа сверху
      rich: { s: { fontFamily: FONT, fontSize: 13, lineHeight: 7, padding: [12, 0, 0, 0], verticalAlign: 'middle', fill: '#000' } }
    }
  })
})

// заголовки
colTitles.forEach((t, c) => {
  graphics.push({
    type: 'text', x: colTitleX[c], y: 55,
    style: {
      text: t, fontFamily: FONT, fontSize: 25, fill: '#000', align: 'center', verticalAlign: 'middle',
      rich: { i: { fontFamily: FONT, fontSize: 25, fontStyle: 'italic', fill: '#000' } }
    }
  })
})
const rowTitleXY = [[675, 20], [710, 357], [683, 643]]
rowTitles.forEach((t, r) => {
  graphics.push({
    type: 'text', x: rowTitleXY[r][0], y: rowTitleXY[r][1],
    style: { text: t, fontFamily: FONT, fontSize: 24, fill: '#000', align: 'center', verticalAlign: 'middle' }
  })
})
graphics.push({
  type: 'text', x: 20, y: 492, rotation: Math.PI / 2,
  style: { text: 'Число клеток', fontFamily: FONT, fontSize: 28, fill: '#000', align: 'center', verticalAlign: 'middle' }
})
graphics.push({
  type: 'text', x: 685, y: 900,
  style: { text: 'Содержание ДНК, отн. ед.', fontFamily: FONT, fontSize: 27, fill: '#000', align: 'center', verticalAlign: 'middle' }
})

const chart = echarts.init(document.getElementById('chart'))
chart.setOption({
  backgroundColor: '#fff',
  animation: false,
  grid: grids,
  xAxis: xAxes,
  yAxis: yAxes,
  series: series,
  graphic: graphics
})
</script>
</body>
</html>
